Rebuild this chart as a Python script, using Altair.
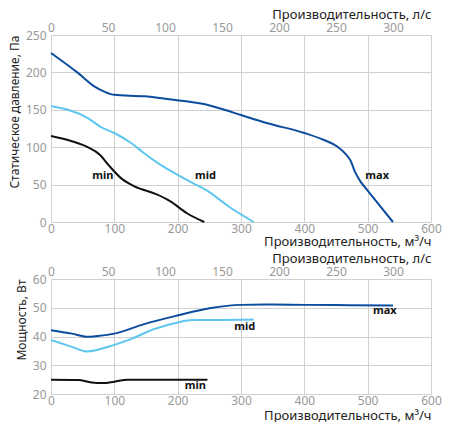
"""Fan performance curves: static pressure and power vs air flow (min / mid / max)."""

import altair as alt
import pandas as pd

# pressure curves, Па vs м³/ч
max_q = [0, 43, 69, 85, 100, 147, 187, 239, 270, 300, 342, 400, 433, 452, 465, 473, 480, 488, 500, 520, 540]
max_p = [226, 199, 181, 174, 170, 168, 164, 158, 151, 143, 132, 119, 109, 101, 91, 82, 67, 55, 42, 21, 0]
mid_q = [0, 58, 79, 100, 126, 147, 172, 198, 224, 250, 280, 320]
mid_p = [155, 139, 127, 119, 106, 92, 77, 64, 52, 40, 21, 0]
min_q = [0, 33, 58, 77, 92, 110, 131, 167, 188, 214, 242]
min_p = [115, 108, 100, 90, 75, 59, 48, 37, 28, 12, 0]

# power curves, Вт vs м³/ч
max_pw_q = [0, 33, 58, 74, 100, 147, 198, 250, 300, 350, 400, 470, 540]
max_pw = [42.2, 41.0, 39.9, 40.2, 41.0, 44.3, 47.2, 49.8, 51.0, 51.1, 51.0, 50.9, 50.8]
mid_pw_q = [0, 33, 56, 100, 126, 162, 200, 224, 300, 320]
mid_pw = [38.8, 36.4, 34.8, 37.1, 39.1, 42.5, 44.9, 45.7, 45.8, 45.9]
min_pw_q = [0, 43, 64, 82, 100, 121, 180, 247]
min_pw = [25.0, 24.9, 24.0, 23.8, 24.3, 25.0, 25.0, 25.0]

speeds = ["max", "mid", "min"]
colors = ["#0b4c9e", "#5ec6f0", "#111111"]

# label positions
p_labels = pd.DataFrame({"q": [82, 244, 515], "v": [62, 62, 62], "t": ["min", "mid", "max"]})
w_labels = pd.DataFrame({"q": [228, 306, 527], "v": [22.9, 43.2, 49.0], "t": ["min", "mid", "max"]})

ls_ticks = [0, 50, 100, 150, 200, 250, 300]
q_ticks = [0, 100, 200, 300, 400, 500, 600]

FONT = "Noto Sans"
GRID = "#d0d0d0"
TICK = "#999999"
TITLE = "#222222"


def curves(pairs):
    rows = []
    for name, qs, vs in pairs:
        for q, v in zip(qs, vs):
            rows.append({"speed": name, "q": q, "v": v})
    return pd.DataFrame(rows)


df_p = curves([("max", max_q, max_p), ("mid", mid_q, mid_p), ("min", min_q, min_p)])
df_w = curves([("max", max_pw_q, max_pw), ("mid", mid_pw_q, mid_pw), ("min", min_pw_q, min_pw)])


def panel(df, labels, y_domain, y_step, y_title, height, x_title_pad=1):
    x_axis = alt.Axis(
        values=q_ticks, title="Производительность, м³/ч", titleAnchor="end",
        grid=True, gridColor=GRID, domain=False, ticks=False, labelPadding=1, titlePadding=x_title_pad,
    )
    y_axis = alt.Axis(
        values=list(range(y_domain[0], y_domain[1] + 1, y_step)), title=y_title, titleAnchor="end",
        grid=True, gridColor=GRID, domain=False, ticks=False, labelPadding=5, titlePadding=4,
        titleFontSize=12,
    )
    x_scale = alt.Scale(domain=[0, 600], nice=False)
    y_scale = alt.Scale(domain=y_domain, nice=False)

    lines = (
        alt.Chart(df)
        .mark_line(strokeWidth=2, interpolate="monotone")
        .encode(
            x=alt.X("q:Q", scale=x_scale, axis=x_axis),
            y=alt.Y("v:Q", scale=y_scale, axis=y_axis),
            color=alt.Color("speed:N", scale=alt.Scale(domain=speeds, range=colors), legend=None),
            detail="speed:N",
        )
    )
    text = (
        alt.Chart(labels)
        .mark_text(fontSize=11, fontWeight="bold", color="#111111", font=FONT)
        .encode(
            x=alt.X("q:Q", scale=x_scale, axis=x_axis),
            y=alt.Y("v:Q", scale=y_scale, axis=y_axis),
            text="t:N",
        )
    )
    # upper axis in l/s (same range as the m³/h axis)
    top = (
        alt.Chart(pd.DataFrame({"ls": [0, 300]}))
        .mark_point(opacity=0)
        .encode(
            x=alt.X(
                "ls:Q",
                scale=alt.Scale(domain=[0, 600 / 1.8], nice=False),
                axis=alt.Axis(
                    orient="top", values=ls_ticks, title="Производительность, л/с", titleAnchor="end",
                    grid=False, domain=False, ticks=False, labelPadding=1, titlePadding=0,
                ),
            )
        )
    )
    return (
        alt.layer(alt.layer(lines, text), top)
        .resolve_scale(x="independent")
        .properties(width=380, height=height)
    )


pressure = panel(df_p, p_labels, [0, 250], 50, "Статическое давление, Па", 187)
power = panel(df_w, w_labels, [20, 60], 10, "Мощность, Вт", 115, x_title_pad=3)

chart = (
    alt.vconcat(pressure, power, spacing=4)
    .properties(padding={"left": 0, "top": 0, "right": 0, "bottom": 0})
    .configure_view(strokeWidth=0)
    .configure_axis(
        labelFont=FONT, titleFont=FONT, labelFontSize=12, titleFontSize=13,
        labelColor=TICK, titleColor=TITLE, titleFontWeight="normal",
        labelOverlap=False, labelFlush=False,
    )
)

chart.save("out.html", embed_options={"renderer": "svg", "actions": False})
